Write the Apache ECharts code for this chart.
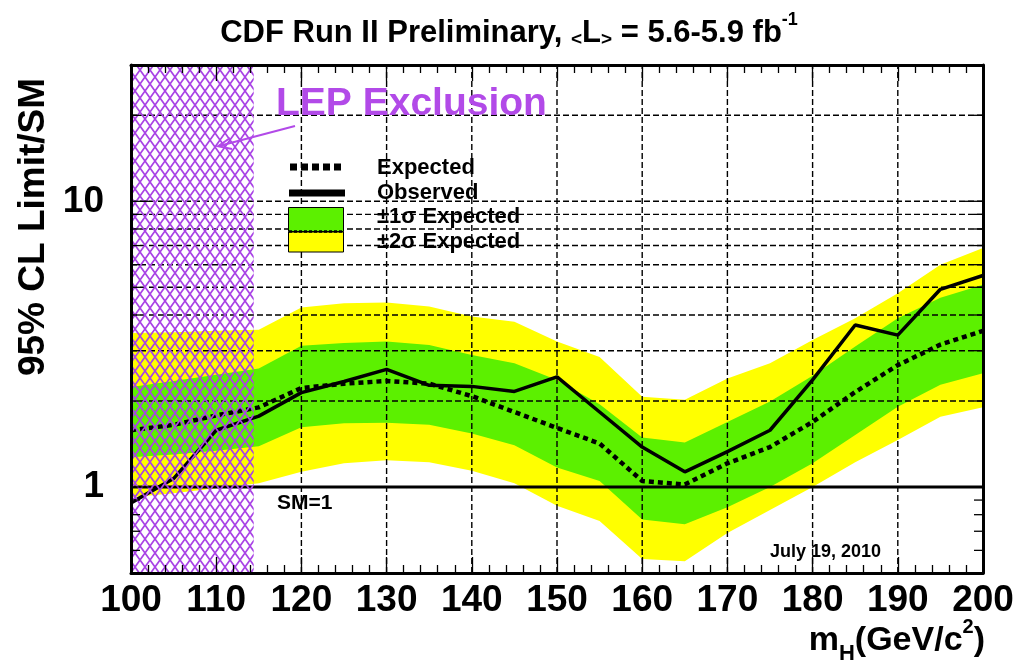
<!DOCTYPE html>
<html><head><meta charset="utf-8">
<script src="https://cdn.jsdelivr.net/npm/echarts@6/dist/echarts.min.js"></script>
<style>html,body{margin:0;padding:0;background:#fff}#c{width:1018px;height:669px}</style>
</head><body><div id="c"></div>
<script>
// ---- data ----
const masses   = [100,105,110,115,120,125,130,135,140,145,150,155,160,165,170,175,180,185,190,195,200];
const observed = [0.88,1.07,1.58,1.77,2.14,2.34,2.58,2.27,2.25,2.16,2.43,1.83,1.38,1.13,1.33,1.58,2.37,3.69,3.40,4.92,5.50];
const expected = [1.58,1.65,1.78,1.90,2.22,2.30,2.35,2.30,2.08,1.83,1.61,1.42,1.05,1.02,1.21,1.38,1.69,2.15,2.67,3.15,3.52];
const plus2    = [3.46,3.48,3.52,3.55,4.25,4.40,4.42,4.28,3.95,3.79,3.23,2.85,2.07,2.02,2.40,2.71,3.27,3.90,4.77,6.00,6.86];
const plus1    = [2.24,2.35,2.47,2.60,3.12,3.19,3.23,3.14,2.90,2.71,2.37,1.95,1.49,1.43,1.69,1.99,2.45,3.10,3.90,4.60,5.10];
const minus1   = [1.27,1.30,1.34,1.39,1.62,1.67,1.68,1.65,1.54,1.40,1.17,1.05,0.77,0.74,0.85,1.00,1.21,1.52,1.91,2.28,2.50];
const minus2   = [0.92,0.95,0.99,1.03,1.13,1.21,1.24,1.22,1.14,1.03,0.86,0.76,0.56,0.55,0.69,0.83,1.00,1.22,1.46,1.76,1.90];
const xMin = 100, xMax = 200, xInterval = 10;
const yMin = 0.5, yMax = 30;
const yLabelValues = [1, 10];
const yMinorTicks = [0.6,0.7,0.8,0.9,2,3,4,5,6,7,8,9,20];
const yMajorTicks = [1, 10];
const hGrid = [2,3,4,5,6,7,8,9,10,20];
const vGrid = [120,130,140,150,160,170,180,190];
const smLine = 1;
const lepLimit = 114.4;

const FONT = "'Liberation Sans', Arial, Helvetica, sans-serif";
const YELLOW = '#ffff00', GREEN = '#5cf000', VIOLET = '#b24ae8';

// hatch pattern
const pc = document.createElement('canvas'); pc.width = 10; pc.height = 14;
const g = pc.getContext('2d');
g.strokeStyle = '#a943e6'; g.lineWidth = 1.7;
g.beginPath(); g.moveTo(-1,-1.4); g.lineTo(11,15.4); g.moveTo(11,-1.4); g.lineTo(-1,15.4); g.stroke();

function band(name, lo, hi, color, z) {
  return {
    type: 'custom', name, z, silent: true, coordinateSystem: 'cartesian2d',
    data: masses.map((m, i) => [m, lo[i], hi[i]]),
    encode: { x: 0, y: [1, 2] },
    renderItem(params, api) {
      if (params.dataIndex !== 0) return null;
      const pts = [];
      for (let i = 0; i < masses.length; i++) pts.push(api.coord([masses[i], hi[i]]));
      for (let i = masses.length - 1; i >= 0; i--) pts.push(api.coord([masses[i], lo[i]]));
      return { type: 'polygon', shape: { points: pts }, style: { fill: color } };
    }
  };
}

const chart = echarts.init(document.getElementById('c'), null, { renderer: 'canvas' });
const axisLine = { show: true, lineStyle: { color: '#000', width: 3 } };
const option = {
  animation: false,
  backgroundColor: '#fff',
  grid: { left: 131, right: 35, top: 65, bottom: 96, containLabel: false },
  xAxis: [
    { type: 'value', min: xMin, max: xMax, interval: xInterval, z: 10,
      axisLine, splitLine: { show: false },
      axisTick: { show: true, inside: true, length: 16, lineStyle: { color: '#000', width: 1.3 } },
      minorTick: { show: true, splitNumber: 5, length: 8, lineStyle: { color: '#000', width: 1.3 } },
      axisLabel: { show: true, margin: 9, color: '#000', fontSize: 37, fontWeight: 'bold', fontFamily: FONT } },
    { type: 'value', position: 'top', min: xMin, max: xMax, interval: xInterval, z: 10,
      axisLine, splitLine: { show: false },
      axisTick: { show: true, inside: true, length: 16, lineStyle: { color: '#000', width: 1.3 } },
      minorTick: { show: true, splitNumber: 5, length: 8, lineStyle: { color: '#000', width: 1.3 } },
      axisLabel: { show: false } }
  ],
  yAxis: [
    { type: 'log', logBase: 10, min: yMin, max: yMax, z: 10,
      axisLine, splitLine: { show: false }, axisTick: { show: false },
      axisLabel: { show: true, margin: 27, color: '#000', fontSize: 37, fontWeight: 'bold', fontFamily: FONT,
        showMinLabel: false, showMaxLabel: false,
        formatter: v => (yLabelValues.some(t => Math.abs(t - v) < 1e-6) ? String(Math.round(v)) : '') } },
    { type: 'log', logBase: 10, min: yMin, max: yMax, position: 'right', z: 10,
      axisLine, splitLine: { show: false }, axisTick: { show: false }, axisLabel: { show: false } }
  ],
  series: [
    band('±2σ Expected', minus2, plus2, YELLOW, 1),
    band('±1σ Expected', minus1, plus1, GREEN, 2),
    { type: 'custom', name: 'grid', z: 3, silent: true, coordinateSystem: 'cartesian2d',
      data: [[xMin, yMin]],
      renderItem(params, api) {
        const ch = [];
        hGrid.forEach(v => { const a = api.coord([xMin, v]), b = api.coord([xMax, v]);
          ch.push({ type: 'line', shape: { x1: a[0], y1: a[1], x2: b[0], y2: b[1] }, style: { stroke: '#000', lineWidth: 1.4, lineDash: [6, 3] } }); });
        vGrid.forEach(v => { const a = api.coord([v, yMin]), b = api.coord([v, yMax]);
          ch.push({ type: 'line', shape: { x1: a[0], y1: a[1], x2: b[0], y2: b[1] }, style: { stroke: '#000', lineWidth: 1.4, lineDash: [6, 3] } }); });
        const s1 = api.coord([xMin, smLine]), s2 = api.coord([xMax, smLine]);
        ch.push({ type: 'line', shape: { x1: s1[0], y1: s1[1], x2: s2[0], y2: s2[1] }, style: { stroke: '#000', lineWidth: 3 } });
        return { type: 'group', children: ch };
      } },
    { type: 'line', name: 'Expected', z: 5, symbol: 'none', silent: true,
      data: masses.map((m, i) => [m, expected[i]]),
      lineStyle: { color: '#000', width: 4.5, type: [5, 4], cap: 'butt' } },
    { type: 'line', name: 'Observed', z: 5, symbol: 'none', silent: true,
      data: masses.map((m, i) => [m, observed[i]]),
      lineStyle: { color: '#000', width: 3.5 } },
    { type: 'custom', name: 'LEP', z: 6, silent: true, coordinateSystem: 'cartesian2d',
      data: [[xMin, lepLimit]],
      renderItem(params, api) {
        const a = api.coord([xMin, yMax]), b = api.coord([lepLimit, yMin]);
        return { type: 'rect', shape: { x: a[0], y: a[1], width: b[0] - a[0], height: b[1] - a[1] },
          style: { fill: { image: pc, repeat: 'repeat' } } };
      } },
    { type: 'custom', name: 'yticks', z: 12, silent: true, coordinateSystem: 'cartesian2d',
      data: [[xMin, yMin]],
      renderItem(params, api) {
        const ch = [];
        const add = (v, len) => {
          const a = api.coord([xMin, v]), b = api.coord([xMax, v]);
          ch.push({ type: 'line', shape: { x1: a[0], y1: a[1], x2: a[0] + len, y2: a[1] }, style: { stroke: '#000', lineWidth: 1.3 } });
          ch.push({ type: 'line', shape: { x1: b[0], y1: b[1], x2: b[0] - len, y2: b[1] }, style: { stroke: '#000', lineWidth: 1.3 } });
        };
        yMinorTicks.forEach(v => add(v, 9));
        yMajorTicks.forEach(v => add(v, 18));
        return { type: 'group', children: ch };
      } }
  ],
  graphic: [
    { type: 'text', left: 'center', top: 11, z: 20,
      style: { text: '{a|CDF Run II Preliminary, }{s|<}{a|L}{s|>}{a| = 5.6-5.9 fb}{p|-1}',
        rich: { a: { fontSize: 31, fontWeight: 'bold', fontFamily: FONT, fill: '#000', lineHeight: 38, verticalAlign: 'bottom' },
                s: { fontSize: 19, fontWeight: 'bold', fontFamily: FONT, fill: '#000', lineHeight: 38, verticalAlign: 'bottom' },
                p: { fontSize: 18, fontWeight: 'bold', fontFamily: FONT, fill: '#000', lineHeight: 38, verticalAlign: 'top' } } } },
    { type: 'text', x: 34, y: 227, rotation: Math.PI / 2, z: 20,
      style: { text: '95% CL Limit/SM', fontSize: 37, fontWeight: 'bold', fontFamily: FONT, fill: '#000', align: 'center', verticalAlign: 'middle' } },
    { type: 'text', right: 33, top: 617, z: 20,
      style: { text: '{a|m}{b|H}{a|(GeV/c}{p|2}{a|)}',
        rich: { a: { fontSize: 34, fontWeight: 'bold', fontFamily: FONT, fill: '#000', lineHeight: 48, verticalAlign: 'middle' },
                b: { fontSize: 22, fontWeight: 'bold', fontFamily: FONT, fill: '#000', lineHeight: 48, verticalAlign: 'bottom' },
                p: { fontSize: 20, fontWeight: 'bold', fontFamily: FONT, fill: '#000', lineHeight: 48, verticalAlign: 'top' } } } },
    { type: 'text', x: 276, y: 104, z: 20,
      style: { text: 'LEP Exclusion', fontSize: 39, fontWeight: 'bold', fontFamily: FONT, fill: VIOLET, verticalAlign: 'middle' } },
    { type: 'polyline', z: 20, shape: { points: [[295, 126], [219, 146]] }, style: { stroke: VIOLET, lineWidth: 2 } },
    { type: 'polyline', z: 20, shape: { points: [[230, 138], [218, 146.3], [232, 149]] }, style: { stroke: VIOLET, lineWidth: 2, fill: null } },
    // legend
    { type: 'line', z: 20, shape: { x1: 290, y1: 167, x2: 345, y2: 167 }, style: { stroke: '#000', lineWidth: 7, lineDash: [7, 4] } },
    { type: 'line', z: 20, shape: { x1: 289, y1: 193, x2: 345, y2: 193 }, style: { stroke: '#000', lineWidth: 7 } },
    { type: 'rect', z: 20, shape: { x: 288.5, y: 207.5, width: 55, height: 24 }, style: { fill: GREEN, stroke: '#000', lineWidth: 1 } },
    { type: 'rect', z: 20, shape: { x: 288.5, y: 232, width: 55, height: 20 }, style: { fill: YELLOW, stroke: '#000', lineWidth: 1 } },
    { type: 'line', z: 21, shape: { x1: 289, y1: 231.5, x2: 343, y2: 231.5 }, style: { stroke: '#000', lineWidth: 2.5, lineDash: [3, 2] } },
    { type: 'text', x: 377, y: 168, z: 20, style: { text: 'Expected', fontSize: 22, fontWeight: 'bold', fontFamily: FONT, fill: '#000', verticalAlign: 'middle' } },
    { type: 'text', x: 377, y: 193, z: 20, style: { text: 'Observed', fontSize: 22, fontWeight: 'bold', fontFamily: FONT, fill: '#000', verticalAlign: 'middle' } },
    { type: 'text', x: 377, y: 217, z: 20, style: { text: '±1σ Expected', fontSize: 22, fontWeight: 'bold', fontFamily: FONT, fill: '#000', verticalAlign: 'middle' } },
    { type: 'text', x: 377, y: 242, z: 20, style: { text: '±2σ Expected', fontSize: 22, fontWeight: 'bold', fontFamily: FONT, fill: '#000', verticalAlign: 'middle' } },
    { type: 'text', x: 277, y: 503, z: 20, style: { text: 'SM=1', fontSize: 21, fontWeight: 'bold', fontFamily: FONT, fill: '#000', verticalAlign: 'middle' } },
    { type: 'text', x: 770, y: 552, z: 20, style: { text: 'July 19, 2010', fontSize: 18, fontWeight: 'bold', fontFamily: FONT, fill: '#000', verticalAlign: 'middle' } }
  ]
};
chart.setOption(option);
</script>
</body></html>
